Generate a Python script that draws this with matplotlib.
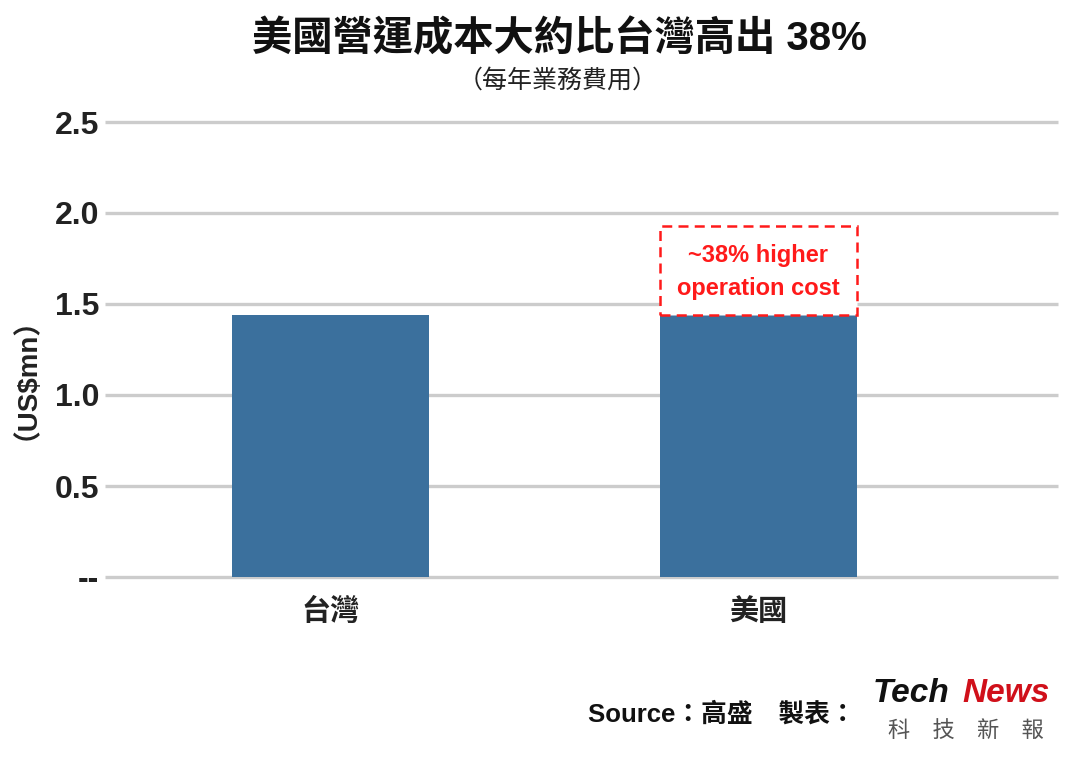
import matplotlib
matplotlib.use("Agg")
import matplotlib.pyplot as plt
from matplotlib.patches import Rectangle

categories = ["台灣", "美國"]
base_values = [1.44, 1.44]
us_higher_top = 1.93
yticks = [0, 0.5, 1.0, 1.5, 2.0, 2.5]
ytick_labels = ["--", "0.5", "1.0", "1.5", "2.0", "2.5"]

FAM = ["Liberation Sans", "Noto Sans CJK TC", "DejaVu Sans"]
CJK = ["Noto Sans CJK TC", "DejaVu Sans"]
plt.rcParams["font.family"] = FAM

W, H = 1080, 757
fig = plt.figure(figsize=(W / 100, H / 100), dpi=100)
fig.patch.set_facecolor("white")

px_per_unit = (577 - 122) / 2.5
ymax = 2.55
ax_h = ymax * px_per_unit
ax = fig.add_axes([105 / W, 180 / H, (1058 - 105) / W, ax_h / H])
ax.set_xlim(-0.526, 1.70)
ax.set_ylim(0, ymax)
for s in ax.spines.values():
    s.set_visible(False)

for t in yticks:
    ax.axhline(t, color="#cccccc", lw=2.4, zorder=0, clip_on=False, solid_capstyle="butt")

x = list(range(len(categories)))
bw = 0.46
ax.bar(x, base_values, width=bw, color="#3b709d", zorder=2)

# dashed annotation box for the US increment
ax.add_patch(Rectangle((x[1] - bw / 2, base_values[1]), bw, us_higher_top - base_values[1],
                       fill=True, facecolor="white", edgecolor="#ff1a1a", lw=1.8,
                       linestyle=(0, (4, 2.5)), zorder=3))
ax.text(x[1], (base_values[1] + us_higher_top) / 2 - 0.01, "~38% higher\noperation cost",
        ha="center", va="center", color="#ff1a1a", fontsize=17, fontweight="bold",
        linespacing=1.55, zorder=4, family=FAM)

ax.set_yticks(yticks)
ax.set_yticklabels(ytick_labels, fontsize=23, fontweight="bold", color="#222222")
ax.tick_params(axis="y", length=0, pad=4)
ax.set_xticks(x)
ax.set_xticklabels(categories, fontsize=21, fontweight="bold", family=CJK, color="#222222")
ax.tick_params(axis="x", length=0, pad=14)

fig.text(12 / W, 1 - 364 / H, r"（US\$mn）", rotation=90, ha="center", va="center",
         fontsize=20, fontweight="bold", color="#222222", family=FAM)

fig.text(560 / W, 1 - 38 / H, "美國營運成本大約比台灣高出 38%", ha="center", va="center",
         fontsize=29, fontweight="heavy", color="#111111", family=FAM)
fig.text(558 / W, 1 - 81 / H, "（每年業務費用）", ha="center", va="center",
         fontsize=18, color="#222222", family=CJK)

fig.text(588 / W, 1 - 714 / H, "Source：高盛　製表：", ha="left", va="center",
         fontsize=18.5, fontweight="bold", color="#111111", family=FAM)
fig.text(873 / W, 1 - 694 / H, "Tech", ha="left", va="center", fontsize=24,
         fontweight="bold", color="#111111", family=FAM, style="italic")
fig.text(962 / W, 1 - 694 / H, "News", ha="left", va="center", fontsize=24,
         fontweight="bold", color="#d0101a", family=FAM, style="italic")
fig.text(966 / W, 1 - 731 / H, "科　技　新　報", ha="center", va="center", fontsize=16,
         color="#555555", family=CJK)

fig.savefig("out.png", dpi=100, facecolor="white")
